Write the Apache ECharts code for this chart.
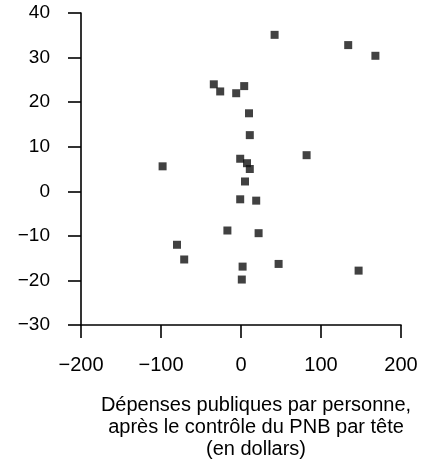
<!DOCTYPE html>
<html>
<head>
<meta charset="utf-8">
<script src="https://cdn.jsdelivr.net/npm/echarts@6/dist/echarts.min.js"></script>
<style>
html,body{margin:0;padding:0;background:#fff;}
#c{width:429px;height:467px;}
</style>
</head>
<body>
<div id="c"></div>
<script>
var xValues = [42, -34, -26, 4, -6, 10, 11, -98, -1, 7.5, 11, 5, -1, 19, -17, 22, -80, -71, 2, 47, 1, 134, 168, 82, 147];
var yValues = [35.1, 24.0, 22.4, 23.6, 22.0, 17.5, 12.6, 5.6, 7.3, 6.3, 5.0, 2.2, -1.8, -2.1, -8.8, -9.4, -12.0, -15.3, -16.9, -16.3, -19.8, 32.8, 30.4, 8.1, -17.8];
var xTicks = { min: -200, max: 200, step: 100 };
var yTicks = { min: -30, max: 40, step: 10 };
var xTitle = 'Dépenses publiques par personne,\naprès le contrôle du PNB par tête\n(en dollars)';

var points = xValues.map(function (x, i) { return [x, yValues[i]]; });
function fmt(v) { return v < 0 ? '\u2212' + Math.abs(v) : String(v); }
var FONT = 'Liberation Sans, Arial, Helvetica, sans-serif';
var axisLine = { show: true, onZero: false, lineStyle: { color: '#000', width: 1.6 } };
var axisTick = { show: true, length: 13, lineStyle: { color: '#000', width: 1.6 } };

var chart = echarts.init(document.getElementById('c'), null, { renderer: 'canvas' });
chart.setOption({
  animation: false,
  backgroundColor: '#fff',
  grid: { left: 81, right: 28, top: 13, bottom: 142, containLabel: false },
  xAxis: {
    type: 'value', min: xTicks.min, max: xTicks.max, interval: xTicks.step,
    axisLine: axisLine, axisTick: axisTick, splitLine: { show: false },
    axisLabel: { formatter: fmt, fontSize: 20, color: '#000', margin: 30, fontFamily: FONT }
  },
  yAxis: {
    type: 'value', min: yTicks.min, max: yTicks.max, interval: yTicks.step,
    axisLine: axisLine, axisTick: axisTick, splitLine: { show: false },
    axisLabel: { formatter: fmt, fontSize: 19, color: '#000', margin: 31, fontFamily: FONT }
  },
  graphic: [{
    type: 'text', x: 256, y: 394,
    style: {
      text: xTitle, align: 'center', textAlign: 'center', verticalAlign: 'top',
      fontSize: 20, fontFamily: FONT, lineHeight: 22, fill: '#000'
    }
  }],
  series: [{
    type: 'scatter', data: points, symbol: 'rect', symbolSize: 8,
    itemStyle: { color: '#111' }
  }]
});
</script>
</body>
</html>
